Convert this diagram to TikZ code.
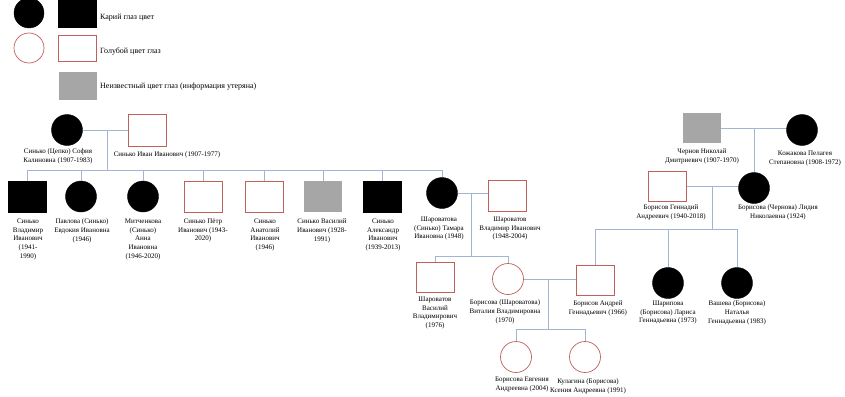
\documentclass[tikz,border=0pt]{standalone}
\usepackage{fontspec}
\setmainfont{Liberation Serif}

\definecolor{eyered}{RGB}{192,96,90}
\definecolor{eyegray}{RGB}{166,166,166}
\definecolor{linkblue}{RGB}{160,182,210}

\tikzset{
	browncirc/.style={circle, draw=black, fill=black, minimum size=31pt, inner sep=0pt},
	bluecirc/.style={circle, draw=eyered, fill=white, minimum size=31pt, inner sep=0pt, line width=0.7pt},
	brownsq/.style={rectangle, draw=black, fill=black, minimum width=38pt, minimum height=31pt, inner sep=0pt},
	bluesq/.style={rectangle, draw=eyered, fill=white, minimum width=38pt, minimum height=31pt, inner sep=0pt, line width=0.7pt},
	unksq/.style={rectangle, fill=eyegray, minimum width=38pt, minimum height=31pt, inner sep=0pt},
	lbl/.style={align=center, anchor=north, inner sep=0pt, font=\fontsize{7}{8.8}\selectfont},
	legtxt/.style={anchor=west, inner sep=0pt, font=\fontsize{8}{9.6}\selectfont},
	link/.style={draw=linkblue, line width=0.8pt}
}

\begin{document}
\begin{tikzpicture}[x=1pt,y=1pt,yscale=-1]
	\useasboundingbox (0,0) rectangle (845,396);
	%legend
	\draw (29,13) node[browncirc, minimum size=30pt] (legc1) {};
	\draw (77.5,13.5) node[brownsq, minimum height=27pt] (legs1) {};
	% Text Node
	\draw (100,18) node[legtxt] (legt1) {Карий глаз цвет};
	\draw (29,48) node[bluecirc, minimum size=30pt] (legc2) {};
	\draw (77.5,48) node[bluesq, minimum height=26pt] (legs2) {};
	% Text Node
	\draw (100,52) node[legtxt] (legt2) {Голубой цвет глаз};
	\draw (77.5,86) node[unksq, minimum height=28pt] (legs3) {};
	% Text Node
	\draw (100,87) node[legtxt] (legt3) {Неизвестный цвет глаз (информация утеряна)};

	%family 1
	\def\ya{196.5}
	\draw (67,130) node[browncirc] (sofia) {};
	\draw (147.5,130) node[bluesq, minimum height=32pt] (ivan) {};
	% Text Node
	\draw (58,148.5) node[lbl] (sofiat) {Синько (Цепко) София\\Калиновна (1907-1983)};
	% Text Node
	\draw (167,151.5) node[lbl] (ivant) {Синько Иван Иванович (1907-1977)};
	\draw (27.5,\ya) node[brownsq] (vlad) {};
	\draw (81,\ya) node[browncirc] (evdok) {};
	\draw (143,\ya) node[browncirc] (anna) {};
	\draw (203.5,\ya) node[bluesq] (petr) {};
	\draw (264,\ya) node[bluesq] (anat) {};
	\draw (323,\ya) node[unksq] (vasil) {};
	\draw (382,\ya) node[brownsq] (alex) {};
	\draw (442,193) node[browncirc] (tamara) {};
	\draw (507,195.5) node[bluesq] (vladsh) {};
	% Text Node
	\draw (28,218.5) node[lbl] (vladt) {Синько\\Владимир\\Иванович\\(1941-\\1990)};
	\draw (82,218.5) node[lbl] (evdokt) {Павлова (Синько)\\Евдокия Ивановна\\(1946)};
	\draw (143,218.5) node[lbl] (annat) {Митченкова\\(Синько)\\Анна\\Ивановна\\(1946-2020)};
	\draw (203,218.5) node[lbl] (petrt) {Синько Пётр\\Иванович (1943-\\2020)};
	\draw (265,218.5) node[lbl] (anatt) {Синько\\Анатолий\\Иванович\\(1946)};
	\draw (322,218.5) node[lbl] (vasilt) {Синько Василий\\Иванович (1928-\\1991)};
	\draw (383,218.5) node[lbl] (alext) {Синько\\Александр\\Иванович\\(1939-2013)};
	\draw (439,216.5) node[lbl] (tamarat) {Шароватова\\(Синько) Тамара\\Ивановна (1948)};
	\draw (510,216.5) node[lbl] (vladsht) {Шароватов\\Владимир Иванович\\(1948-2004)};
	%Straight Lines
	\coordinate (fam1) at (107,130);
	\coordinate (kids1) at (107,170);
	\draw[link] (sofia) -- (ivan);
	\draw[link] (fam1) -- (kids1);
	\foreach \k in {vlad,evdok,anna,petr,anat,vasil,alex,tamara}
		\draw[link] (kids1) -| (\k);

	%family 2
	\draw (435.5,277) node[bluesq, minimum height=30pt] (vasilsh) {};
	\draw (508,279) node[bluecirc] (vitalia) {};
	\draw (595,280.5) node[bluesq, minimum height=30pt] (andrey) {};
	% Text Node
	\draw (435,296.5) node[lbl] (vasilsht) {Шароватов\\Василий\\Владимирович\\(1976)};
	\draw (505,299.5) node[lbl] (vitaliat) {Борисова (Шароватова)\\Виталия Владимировна\\(1970)};
	\draw (598,300.5) node[lbl] (andreyt) {Борисов Андрей\\Геннадьевич (1966)};
	%Straight Lines
	\coordinate (fam2) at (471,193);
	\coordinate (kids2) at (471,256);
	\draw[link] (tamara.east) -- (tamara.east -| vladsh.west);
	\draw[link] (fam2) -- (kids2);
	\foreach \k in {vasilsh,vitalia}
		\draw[link] (kids2) -| (\k);

	%family 3
	\draw (516,357) node[bluecirc] (evgenia) {};
	\draw (585,357) node[bluecirc] (ksenia) {};
	% Text Node
	\draw (522,376.5) node[lbl] (evgeniat) {Борисова Евгения\\Андреевна (2004)};
	\draw (588,378.5) node[lbl] (kseniat) {Кулагина (Борисова)\\Ксения Андреевна (1991)};
	%Straight Lines
	\coordinate (fam3) at (548,279);
	\coordinate (kids3) at (548,329);
	\draw[link] (vitalia.east) -- (vitalia.east -| andrey.west);
	\draw[link] (fam3) -- (kids3);
	\foreach \k in {evgenia,ksenia}
		\draw[link] (kids3) -| (\k);

	%family 4
	\draw (702,128) node[unksq, minimum height=30pt] (chernov) {};
	\draw (802,130) node[browncirc] (kozh) {};
	\draw (754,188) node[browncirc] (lidia) {};
	% Text Node
	\draw (702,148.5) node[lbl] (chernovt) {Чернов Николай\\Дмитриевич (1907-1970)};
	\draw (805,150.5) node[lbl] (kozht) {Кожакова Пелагея\\Степановна (1908-1972)};
	\draw (778,204.5) node[lbl] (lidiat) {Борисова (Чернова) Лидия\\Николаевна (1924)};
	%Straight Lines
	\coordinate (fam4) at (754,128);
	\draw[link] (chernov.east) -- (chernov.east -| kozh.west);
	\draw[link] (fam4) -- (lidia);

	%family 5
	\draw (667.5,186.5) node[bluesq, minimum height=30pt] (gennadiy) {};
	\draw (668,283) node[browncirc] (larisa) {};
	\draw (737,283) node[browncirc] (natalya) {};
	% Text Node
	\draw (671,204.5) node[lbl] (gennadiyt) {Борисов Геннадий\\Андреевич (1940-2018)};
	\draw (668,300.5) node[lbl] (larisat) {Шарипова\\(Борисова) Лариса\\Геннадьевна (1973)};
	\draw (737,300.5) node[lbl] (natalyat) {Вашева (Борисова)\\Наталья\\Геннадьевна (1983)};
	%Straight Lines
	\coordinate (fam5) at (712,186.5);
	\coordinate (kids5) at (712,229);
	\draw[link] (gennadiy) -- (gennadiy -| lidia.west);
	\draw[link] (fam5) -- (kids5);
	\foreach \k in {andrey,larisa,natalya}
		\draw[link] (kids5) -| (\k);
\end{tikzpicture}
\end{document}
